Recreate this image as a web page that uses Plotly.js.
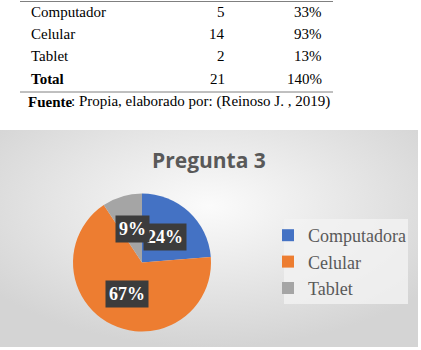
<!DOCTYPE html>
<html>
<head>
<meta charset="utf-8">
<script src="https://cdn.plot.ly/plotly-3.0.1.min.js"></script>
<style>
html,body{margin:0;padding:0;background:#fff;}
#chart{width:421px;height:350px;}
</style>
</head>
<body>
<div id="chart"></div>
<script>
// ---- data ----
const tableRows = ["Computador", "Celular", "Tablet"];
const tableCounts = [5, 14, 2];
const tablePercents = ["33%", "93%", "13%"];
const totalLabel = "Total";
const totalCount = 21;
const totalPercent = "140%";
const sourceBold = "Fuente";
const sourceRest = ": Propia, elaborado por: (Reinoso J. , 2019)";

const chartTitle = "Pregunta 3";
const categories = ["Computadora", "Celular", "Tablet"];
const values = [33, 93, 13];
const colors = ["#4472c4", "#ed7d31", "#a5a5a5"];

// ---- geometry helpers (pixels -> paper) ----
const W = 421, H = 350;
const px = x => x / W;
const py = y => 1 - y / H;

// pie placement
const cx = 142, cy = 262.5, R = 69;

const serif = "Liberation Serif";
const annotations = [];
const shapes = [];

// table lines
shapes.push({type:"line", xref:"paper", yref:"paper", x0:px(20), x1:px(333), y0:py(1.5), y1:py(1.5), line:{color:"#808080", width:1}});
shapes.push({type:"line", xref:"paper", yref:"paper", x0:px(20), x1:px(333), y0:py(92), y1:py(92), line:{color:"#808080", width:1}});

const rowY = [12, 34, 56, 79];
const allNames = tableRows.concat([totalLabel]);
const allCounts = tableCounts.concat([totalCount]);
const allPerc = tablePercents.concat([totalPercent]);
allNames.forEach((n, i) => {
  const bold = i === allNames.length - 1;
  const f = {family:serif, size:15, color:"#000", weight: bold ? 700 : 400};
  annotations.push({xref:"paper", yref:"paper", x:px(29), y:py(rowY[i]), xanchor:"left", yanchor:"middle",
    text:n, showarrow:false, font:f});
  annotations.push({xref:"paper", yref:"paper", x:px(227), y:py(rowY[i]), xanchor:"right", yanchor:"middle",
    text:String(allCounts[i]), showarrow:false, font:{family:serif, size:15, color:"#000"}});
  annotations.push({xref:"paper", yref:"paper", x:px(324), y:py(rowY[i]), xanchor:"right", yanchor:"middle",
    text:allPerc[i], showarrow:false, font:{family:serif, size:15, color:"#000"}});
});
annotations.push({xref:"paper", yref:"paper", x:px(26), y:py(102), xanchor:"left", yanchor:"middle",
  text:sourceBold, showarrow:false, font:{family:serif, size:15, color:"#000", weight:700}});
annotations.push({xref:"paper", yref:"paper", x:px(69), y:py(102), xanchor:"left", yanchor:"middle",
  text:sourceRest, showarrow:false, font:{family:serif, size:15, color:"#000"}});

// chart title
annotations.push({xref:"paper", yref:"paper", x:px(209), y:py(160), xanchor:"center", yanchor:"middle",
  text:chartTitle, showarrow:false, font:{family:"Open Sans", size:21, color:"#595959", weight:700}});

// legend box
shapes.push({type:"rect", xref:"paper", yref:"paper", x0:px(284), x1:px(408), y0:py(304), y1:py(219),
  fillcolor:"rgba(242,242,242,0.8)", line:{width:0}, layer:"below"});

// data labels derived from values (Excel-style, at half radius on slice bisector)
const total = values.reduce((a, b) => a + b, 0);
let cum = 0;
values.forEach((v, i) => {
  const mid = (cum + v / 2) / total * 2 * Math.PI;
  cum += v;
  const lx = cx + Math.sin(mid) * R * 0.5;
  const ly = cy - Math.cos(mid) * R * 0.5;
  annotations.push({xref:"paper", yref:"paper", x:px(lx), y:py(ly), xanchor:"center", yanchor:"middle",
    text:Math.round(v / total * 100) + "%", showarrow:false,
    bgcolor:"#3c3c3c", borderpad:3,
    font:{family:serif, size:18, color:"#ffffff", weight:700}});
});

// gradient chart background
const svg = '<svg xmlns="http://www.w3.org/2000/svg" width="418" height="217" viewBox="0 0 418 217">' +
  '<defs><radialGradient id="g" cx="50%" cy="35%" r="65%">' +
  '<stop offset="0" stop-color="#fbfbfb"/><stop offset="1" stop-color="#d4d4d4"/></radialGradient></defs>' +
  '<rect width="418" height="217" fill="url(#g)"/></svg>';
const images = [{source:"data:image/svg+xml;base64," + btoa(svg), xref:"paper", yref:"paper",
  x:0, y:py(130), sizex:px(418), sizey:217 / H, xanchor:"left", yanchor:"top", sizing:"stretch", layer:"below"}];

const trace = {
  type:"pie",
  labels:categories,
  values:values,
  sort:false,
  direction:"clockwise",
  rotation:0,
  textinfo:"none",
  hoverinfo:"label+percent",
  marker:{colors:colors, line:{width:0}},
  domain:{x:[px(cx - R), px(cx + R)], y:[py(cy + R), py(cy - R)]}
};

const layout = {
  width:W, height:H,
  margin:{l:0, r:0, t:0, b:0},
  paper_bgcolor:"#ffffff",
  showlegend:true,
  legend:{x:px(268), y:py(217), xanchor:"left", yanchor:"top",
    bgcolor:"rgba(0,0,0,0)", font:{family:serif, size:18, color:"#595959"},
    itemwidth:30},
  annotations:annotations,
  shapes:shapes,
  images:images
};

Plotly.newPlot("chart", [trace], layout, {displayModeBar:false, staticPlot:true});
</script>
</body>
</html>
